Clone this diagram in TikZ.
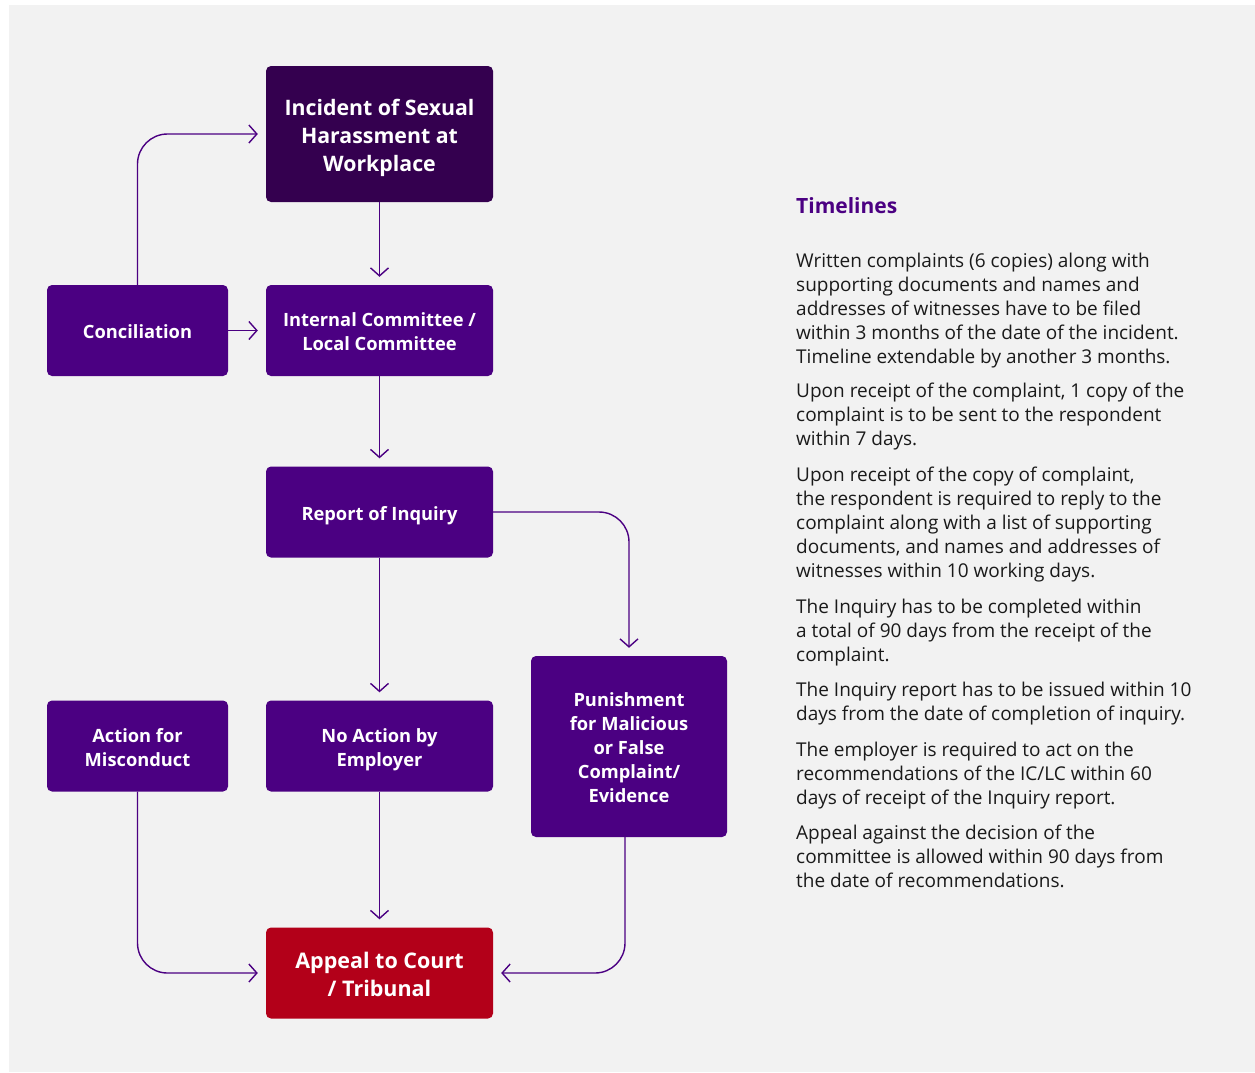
\documentclass[tikz,border=0pt]{standalone}
\usepackage{fontspec}
\setmainfont{Open Sans}
\usetikzlibrary{arrows.meta}

\definecolor{bggray}{HTML}{F2F2F2}
\definecolor{darkplum}{HTML}{34004F}
\definecolor{indigo}{HTML}{4B0082}
\definecolor{courtred}{HTML}{B30019}
\definecolor{bodytext}{HTML}{1A1A1A}

\newcommand{\boxtop}{\rule{0pt}{1.2em}}
\newcommand{\boxbottom}{\rule[-0.3em]{0pt}{0.3em}}

\begin{document}
\begin{tikzpicture}[x=1pt,y=-1pt,
    box/.style={rectangle,rounded corners=5pt,fill=indigo,text=white,align=flush center,text width=210pt,
      font=\fontsize{18.3}{24}\selectfont\bfseries,minimum width=227pt,minimum height=91pt,inner sep=0pt,
      execute at begin node=\boxtop,execute at end node=\boxbottom},
    conn/.style={indigo,line width=1.4pt,-{Straight Barb[length=8pt,width=18pt]},shorten >=8pt,rounded corners=30pt},
    para/.style={anchor=base west,align=left,inner sep=0pt,text=bodytext,font=\fontsize{19}{24}\selectfont}]
        % Background
        \useasboundingbox (0,0) rectangle (1255,1072);
        \fill[white] (0,0) rectangle (1255,1072);
        \fill[bggray] (9,5) rectangle (1255,1072);

        % Boxes
        \node[box,fill=darkplum,minimum height=136pt,font=\fontsize{21.3}{28}\selectfont\bfseries] (incident) at (379.5,134) {Incident of Sexual\\Harassment at\\Workplace};
        \node[box] (committee) at (379.5,330.5) {Internal Committee /\\Local Committee};
        \node[box,minimum width=181pt,text width=170pt] (concil) at (137.5,330.5) {Conciliation};
        \node[box] (report) at (379.5,512) {Report of Inquiry};
        \node[box,minimum width=181pt,text width=170pt] (action) at (137.5,746) {Action for\\Misconduct};
        \node[box] (noaction) at (379.5,746) {No Action by\\Employer};
        \node[box,minimum width=196pt,text width=180pt,minimum height=181pt] (punish) at (629,746.5) {Punishment\\for Malicious\\or False\\Complaint/\\Evidence};
        \node[box,fill=courtred,font=\fontsize{21.5}{28}\selectfont\bfseries] (appeal) at (379.5,973) {Appeal to Court\\/ Tribunal};

        % Connectors
        \draw[conn] (incident) -- (committee);
        \draw[conn] (concil.north) |- (incident.west);
        \draw[conn] (concil) -- (committee);
        \draw[conn] (committee) -- (report);
        \draw[conn] (report) -- (noaction);
        \draw[conn] (report.east) -| (punish.north);
        \draw[conn] (action.south) |- (appeal.west);
        \draw[conn] (noaction) -- (appeal);
        \draw[conn] ([xshift=-4pt]punish.south) |- (appeal.east);

        % Timelines (each paragraph placed at the baseline of its last line)
        \node[anchor=base west,inner sep=0pt,text=indigo,font=\fontsize{21}{24}\selectfont\bfseries] (title) at (796,213) {Timelines};
        \node[para] (p1) at (796,363) {Written complaints (6 copies) along with\\supporting documents and names and\\addresses of witnesses have to be filed\\within 3 months of the date of the incident.\\Timeline extendable by another 3 months.};
        \node[para] (p2) at (796,445) {Upon receipt of the complaint, 1 copy of the\\complaint is to be sent to the respondent\\within 7 days.};
        \node[para] (p3) at (796,577) {Upon receipt of the copy of complaint,\\the respondent is required to reply to the\\complaint along with a list of supporting\\documents, and names and addresses of\\witnesses within 10 working days.};
        \node[para] (p4) at (796,661) {The Inquiry has to be completed within\\a total of 90 days from the receipt of the\\complaint.};
        \node[para] (p5) at (796,720) {The Inquiry report has to be issued within 10\\days from the date of completion of inquiry.};
        \node[para] (p6) at (796,804) {The employer is required to act on the\\recommendations of the IC/LC within 60\\days of receipt of the Inquiry report.};
        \node[para] (p7) at (796,887) {Appeal against the decision of the\\committee is allowed within 90 days from\\the date of recommendations.};
\end{tikzpicture}
\end{document}
